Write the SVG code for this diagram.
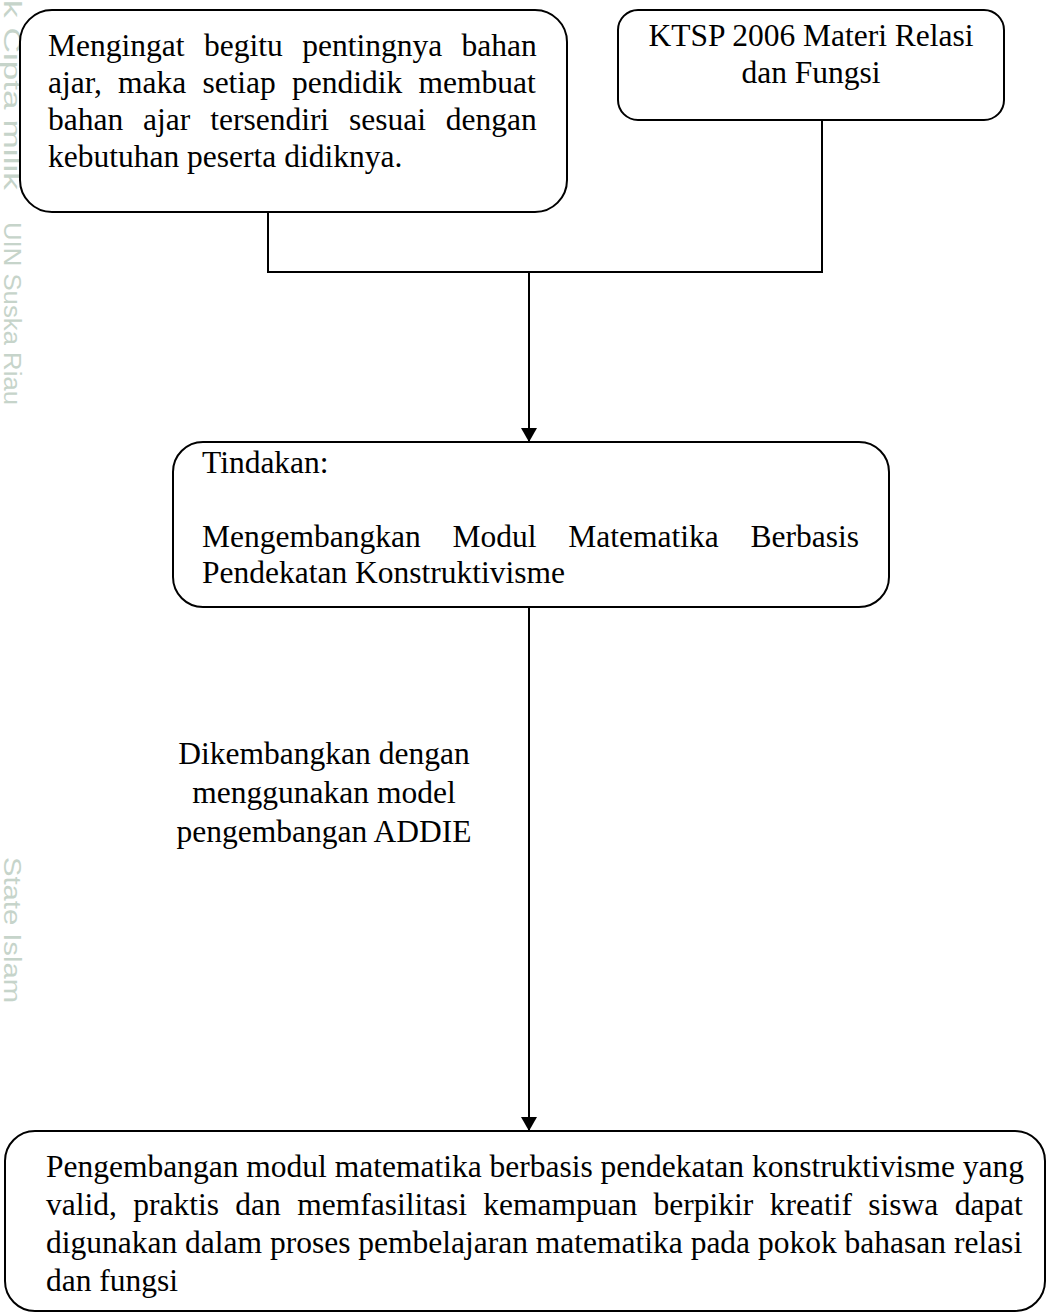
<svg xmlns="http://www.w3.org/2000/svg" width="1046" height="1313" viewBox="0 0 1046 1313">
<style>
.box{fill:#fff;stroke:#000;stroke-width:2}
.t{font-family:"Liberation Serif","Times New Roman",serif;font-size:31.5px;fill:#000}
.wm{font-family:"Liberation Sans",Arial,sans-serif;font-size:23px;fill:#c6d4ca}
.line{fill:none;stroke:#000;stroke-width:2}
</style>
<defs>
<marker id="arr" markerWidth="14" markerHeight="16" refX="14" refY="8" orient="auto" markerUnits="userSpaceOnUse"><path d="M0,0 L14,8 L0,16 Z" fill="#000"/></marker>
</defs>
<g id="watermark">
<text class="wm" transform="translate(4,0) rotate(90)" textLength="190" lengthAdjust="spacingAndGlyphs">k Cipta milik</text>
<text class="wm" transform="translate(4,222) rotate(90)" textLength="183" lengthAdjust="spacingAndGlyphs">UIN Suska Riau</text>
<text class="wm" transform="translate(4,857) rotate(90)" textLength="146" lengthAdjust="spacingAndGlyphs">State Islam</text>
</g>
<g id="connectors">
<path class="line" d="M268,212 V272 H822 V120"/>
<path class="line" d="M529,272 V442" marker-end="url(#arr)"/>
<path class="line" d="M529,607 V1131" marker-end="url(#arr)"/>
</g>
<g id="node-latar">
<rect class="box" x="20" y="10" width="547" height="202" rx="32"/>
<text class="t" x="48" y="56" word-spacing="11.6">Mengingat begitu pentingnya bahan</text>
<text class="t" x="48" y="93" word-spacing="8.3">ajar, maka setiap pendidik membuat</text>
<text class="t" x="48" y="130" word-spacing="12">bahan ajar tersendiri sesuai dengan</text>
<text class="t" x="48" y="167">kebutuhan peserta didiknya.</text>
</g>
<g id="node-ktsp">
<rect class="box" x="618" y="10" width="386" height="110" rx="20"/>
<text class="t" x="811" y="46" text-anchor="middle">KTSP 2006 Materi Relasi</text>
<text class="t" x="811" y="83" text-anchor="middle">dan Fungsi</text>
</g>
<g id="node-tindakan">
<rect class="box" x="173" y="442" width="716" height="165" rx="30"/>
<text class="t" x="202" y="473">Tindakan:</text>
<text class="t" x="202" y="547" word-spacing="23.9">Mengembangkan Modul Matematika Berbasis</text>
<text class="t" x="202" y="583">Pendekatan Konstruktivisme</text>
</g>
<g id="label-addie">
<text class="t" x="324" y="764" text-anchor="middle">Dikembangkan dengan</text>
<text class="t" x="324" y="803" text-anchor="middle">menggunakan model</text>
<text class="t" x="324" y="842" text-anchor="middle">pengembangan ADDIE</text>
</g>
<g id="node-hasil">
<rect class="box" x="5" y="1131" width="1040" height="180" rx="30"/>
<text class="t" x="46" y="1177">Pengembangan modul matematika berbasis pendekatan konstruktivisme yang</text>
<text class="t" x="46" y="1215" word-spacing="8.5">valid, praktis dan memfasilitasi kemampuan berpikir kreatif siswa dapat</text>
<text class="t" x="46" y="1253">digunakan dalam proses pembelajaran matematika pada pokok bahasan relasi</text>
<text class="t" x="46" y="1291">dan fungsi</text>
</g>
</svg>
